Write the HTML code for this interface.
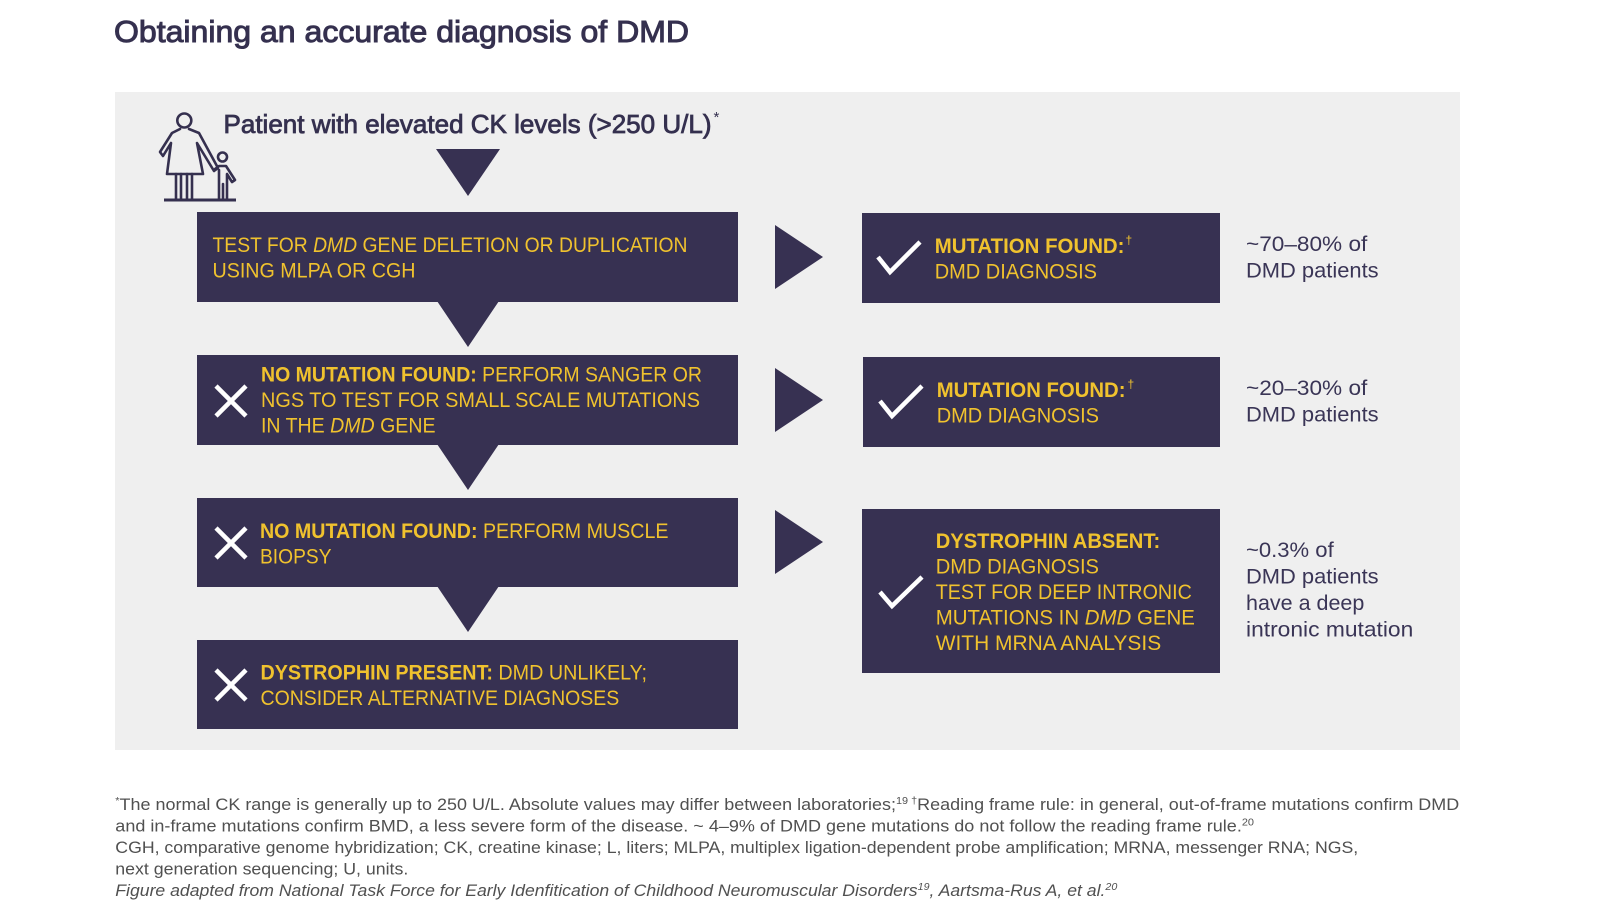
<!DOCTYPE html>
<html>
<head>
<meta charset="utf-8">
<style>
  html, body { margin:0; padding:0; background:#ffffff; }
  body { width:1600px; height:915px; overflow:hidden; }
  svg { display:block; }
  text { font-family:"Liberation Sans", Arial, sans-serif; }
  .y { fill:#f0c22e; font-size:21px; }
  .b { font-weight:bold; }
  .lbl { fill:#3a3556; font-size:21px; }
  .ft { fill:#505050; font-size:16.5px; }
</style>
</head>
<body>
<svg width="1600" height="915" viewBox="0 0 1600 915" xmlns="http://www.w3.org/2000/svg">
  <!-- Title -->
  <text x="114" y="42" font-size="31" fill="#35304f" stroke="#35304f" stroke-width="1.0" textLength="575" lengthAdjust="spacingAndGlyphs">Obtaining an accurate diagnosis of DMD</text>

  <!-- Panel -->
  <rect x="115" y="92" width="1345" height="658" fill="#efefef"/>

  <!-- Person icon -->
  <g fill="none" stroke="#35304f" stroke-width="2.6" stroke-linejoin="round" stroke-linecap="round">
    <circle cx="184.3" cy="120.5" r="7"/>
    <path d="M180 129 L172 133 L160 152 L163 156 L171 143 L167 174 L203 174 L197 143 L214 171 L218 168 L199 133 L189 129"/>
    <line x1="176" y1="174" x2="176" y2="199"/>
    <line x1="181" y1="174" x2="181" y2="199"/>
    <line x1="187" y1="174" x2="187" y2="199"/>
    <line x1="192" y1="174" x2="192" y2="199"/>
    <circle cx="222.5" cy="157" r="4.5"/>
    <path d="M215 169 L219 166 L226 166 L235 180 L232 182 L227 174 L227 199"/>
    <line x1="219" y1="170" x2="219" y2="199"/>
    <line x1="223" y1="184" x2="223" y2="199"/>
  </g>
  <line x1="164" y1="200" x2="236" y2="200" stroke="#35304f" stroke-width="3"/>

  <!-- Patient line -->
  <text x="223.5" y="133" font-size="26" fill="#35304f" stroke="#35304f" stroke-width="0.8" textLength="488" lengthAdjust="spacingAndGlyphs">Patient with elevated CK levels (&gt;250 U/L)</text>
  <text x="713.5" y="122" font-size="15" fill="#35304f">*</text>

  <!-- Down triangles / pointers -->
  <g fill="#373152">
    <polygon points="436,149 500,149 468,196"/>
    <rect x="197" y="212" width="541" height="90"/>
    <polygon points="437,301 499,301 468,347"/>
    <rect x="197" y="355" width="541" height="90"/>
    <polygon points="437,444 499,444 468,490"/>
    <rect x="197" y="498" width="541" height="89"/>
    <polygon points="437,586 499,586 468,632"/>
    <rect x="197" y="640" width="541" height="89"/>

    <!-- right triangles -->
    <polygon points="775,225 823,257 775,289"/>
    <polygon points="775,368 823,400 775,432"/>
    <polygon points="775,510 823,542 775,574"/>

    <!-- right boxes -->
    <rect x="862" y="213" width="358" height="90"/>
    <rect x="863" y="357" width="357" height="90"/>
    <rect x="862" y="509" width="358" height="164"/>
  </g>

  <!-- Box 1 text -->
  <text class="y" x="212.5" y="252" textLength="475" lengthAdjust="spacingAndGlyphs">TEST FOR <tspan font-style="italic">DMD</tspan> GENE DELETION OR DUPLICATION</text>
  <text class="y" x="212.5" y="277.5" textLength="203" lengthAdjust="spacingAndGlyphs">USING MLPA OR CGH</text>

  <!-- Box 2 -->
  <text class="y" x="261" y="381.6" textLength="441" lengthAdjust="spacingAndGlyphs"><tspan class="b">NO MUTATION FOUND:</tspan> PERFORM SANGER OR</text>
  <text class="y" x="261" y="407.1" textLength="439" lengthAdjust="spacingAndGlyphs">NGS TO TEST FOR SMALL SCALE MUTATIONS</text>
  <text class="y" x="261" y="432.7" textLength="174.5" lengthAdjust="spacingAndGlyphs">IN THE <tspan font-style="italic">DMD</tspan> GENE</text>

  <!-- Box 3 -->
  <text class="y" x="260" y="537.8" textLength="408.5" lengthAdjust="spacingAndGlyphs"><tspan class="b">NO MUTATION FOUND:</tspan> PERFORM MUSCLE</text>
  <text class="y" x="260" y="563.3" textLength="71.5" lengthAdjust="spacingAndGlyphs">BIOPSY</text>

  <!-- Box 4 -->
  <text class="y" x="260.5" y="679.6" textLength="386.5" lengthAdjust="spacingAndGlyphs"><tspan class="b">DYSTROPHIN PRESENT:</tspan> DMD UNLIKELY;</text>
  <text class="y" x="260.5" y="705.1" textLength="358.8" lengthAdjust="spacingAndGlyphs">CONSIDER ALTERNATIVE DIAGNOSES</text>

  <!-- X icons -->
  <g stroke="#ffffff" stroke-width="4.5" stroke-linecap="butt">
    <line x1="216" y1="386" x2="246" y2="416"/>
    <line x1="246" y1="386" x2="216" y2="416"/>
    <line x1="216" y1="528" x2="246" y2="558"/>
    <line x1="246" y1="528" x2="216" y2="558"/>
    <line x1="216" y1="670" x2="246" y2="700"/>
    <line x1="246" y1="670" x2="216" y2="700"/>
  </g>

  <!-- Check icons -->
  <g fill="none" stroke="#ffffff" stroke-width="4.5" stroke-linejoin="miter">
    <polyline points="878,257 890,272 920,242"/>
    <polyline points="880,401 892,416 922,386"/>
    <polyline points="880,592 892,606 922,577"/>
  </g>

  <!-- Right box 1 -->
  <text class="y b" x="934.7" y="253" textLength="189.8" lengthAdjust="spacingAndGlyphs">MUTATION FOUND:</text>
  <text x="1125.5" y="244" font-size="12" fill="#f0c22e">†</text>
  <text class="y" x="934.7" y="278.6" textLength="162.3" lengthAdjust="spacingAndGlyphs">DMD DIAGNOSIS</text>

  <!-- Right box 2 -->
  <text class="y b" x="936.7" y="397" textLength="188.8" lengthAdjust="spacingAndGlyphs">MUTATION FOUND:</text>
  <text x="1127.5" y="388" font-size="12" fill="#f0c22e">†</text>
  <text class="y" x="936.7" y="422.4" textLength="162.3" lengthAdjust="spacingAndGlyphs">DMD DIAGNOSIS</text>

  <!-- Right box 3 -->
  <text class="y b" x="935.7" y="548" textLength="224.5" lengthAdjust="spacingAndGlyphs">DYSTROPHIN ABSENT:</text>
  <text class="y" x="935.7" y="573.5" textLength="163.3" lengthAdjust="spacingAndGlyphs">DMD DIAGNOSIS</text>
  <text class="y" x="935.7" y="599" textLength="256.1" lengthAdjust="spacingAndGlyphs">TEST FOR DEEP INTRONIC</text>
  <text class="y" x="935.7" y="624.5" textLength="259.2" lengthAdjust="spacingAndGlyphs">MUTATIONS IN <tspan font-style="italic">DMD</tspan> GENE</text>
  <text class="y" x="935.7" y="650" textLength="225.5" lengthAdjust="spacingAndGlyphs">WITH MRNA ANALYSIS</text>

  <!-- Right labels -->
  <text class="lbl" x="1246" y="251" textLength="121.3" lengthAdjust="spacingAndGlyphs">~70–80% of</text>
  <text class="lbl" x="1246" y="277.5" textLength="132.6" lengthAdjust="spacingAndGlyphs">DMD patients</text>
  <text class="lbl" x="1246" y="395" textLength="121.3" lengthAdjust="spacingAndGlyphs">~20–30% of</text>
  <text class="lbl" x="1246" y="421.4" textLength="132.6" lengthAdjust="spacingAndGlyphs">DMD patients</text>
  <text class="lbl" x="1246" y="557" textLength="87.7" lengthAdjust="spacingAndGlyphs">~0.3% of</text>
  <text class="lbl" x="1246" y="583.7" textLength="132.6" lengthAdjust="spacingAndGlyphs">DMD patients</text>
  <text class="lbl" x="1246" y="610" textLength="118.3" lengthAdjust="spacingAndGlyphs">have a deep</text>
  <text class="lbl" x="1246" y="636.7" textLength="167.3" lengthAdjust="spacingAndGlyphs">intronic mutation</text>

  <!-- Footer -->
  <text class="ft" x="115.3" y="810" textLength="1343.9" lengthAdjust="spacingAndGlyphs"><tspan font-size="10" dy="-6">*</tspan><tspan dy="6">The normal CK range is generally up to 250 U/L. Absolute values may differ between laboratories;</tspan><tspan font-size="10" dy="-6">19</tspan><tspan font-size="10"> †</tspan><tspan dy="6">Reading frame rule: in general, out-of-frame mutations confirm DMD</tspan></text>
  <text class="ft" x="115.3" y="831.6" textLength="1138.7" lengthAdjust="spacingAndGlyphs">and in-frame mutations confirm BMD, a less severe form of the disease. ~ 4–9% of DMD gene mutations do not follow the reading frame rule.<tspan font-size="10" dy="-6">20</tspan></text>
  <text class="ft" x="115.3" y="853" textLength="1242.9" lengthAdjust="spacingAndGlyphs">CGH, comparative genome hybridization; CK, creatine kinase; L, liters; MLPA, multiplex ligation-dependent probe amplification; MRNA, messenger RNA; NGS,</text>
  <text class="ft" x="115.3" y="874.5" textLength="293" lengthAdjust="spacingAndGlyphs">next generation sequencing; U, units.</text>
  <text class="ft" x="115.3" y="896" font-style="italic" textLength="1002" lengthAdjust="spacingAndGlyphs">Figure adapted from National Task Force for Early Idenfitication of Childhood Neuromuscular Disorders<tspan font-size="10" dy="-6">19</tspan><tspan dy="6">, Aartsma-Rus A, et al.</tspan><tspan font-size="10" dy="-6">20</tspan></text>
</svg>
</body>
</html>
